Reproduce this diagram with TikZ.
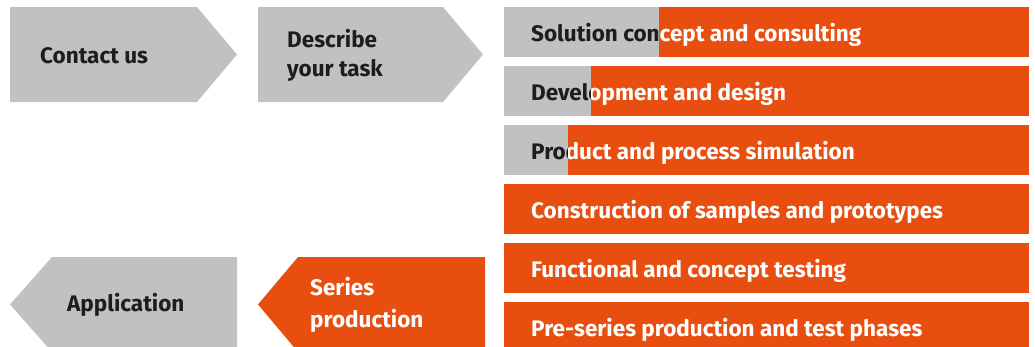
\documentclass[tikz,border=0pt]{standalone}
\usepackage{fontspec}
\setmainfont{Fira Sans}
\usepackage{xcolor}
\usepackage{tikz}

\definecolor{grisclair}{HTML}{C1C1C1}
\definecolor{orangefonce}{HTML}{E84E0F}
\definecolor{noirtexte}{HTML}{1D1D1B}

\begin{document}
\begin{tikzpicture}[x=1pt,y=-1pt]
		\tikzstyle{texte}=[anchor=base west,inner sep=0pt,align=left,font=\bfseries\fontsize{22.5}{29.5}\selectfont]
		\tikzstyle{sombre}=[texte,text=noirtexte]
		\tikzstyle{clair}=[texte,text=white]
		\useasboundingbox (0,0) rectangle (1035,346);
		\clip (0,0) rectangle (1035,346);

		% fleches du haut et du bas
		\fill[color=grisclair] (10,7) -- (197,7) -- (237,54.5) -- (197,102) -- (10,102) -- cycle;
		\fill[color=grisclair] (258,7) -- (443,7) -- (483,54.5) -- (443,102) -- (258,102) -- cycle;
		\fill[color=grisclair] (52,257) -- (237,257) -- (237,352) -- (52,352) -- (10,304.5) -- cycle;
		\fill[color=orangefonce] (298,257) -- (485,257) -- (485,352) -- (298,352) -- (258,304.5) -- cycle;
		\node[sombre] (contact) at (40,63) {Contact us};
		\node[sombre] (tache) at (287,76.7) {Describe\\your task};
		\node[sombre] (application) at (67,311.5) {Application};
		\node[clair,font=\bfseries\fontsize{22.5}{32}\selectfont] (serie) at (310,327.7) {Series\\production};

		% barres des phases
		\foreach \i/\y/\coupe/\txt in {1/7/659/Solution concept and consulting,
				2/66/591/Development and design,
				3/125/568/Product and process simulation,
				4/184/504/Construction of samples and prototypes,
				5/243/504/Functional and concept testing,
				6/302/504/Pre-series production and test phases}
		{
			\fill[color=grisclair] (504,\y) rectangle (\coupe,\y+50);
			\fill[color=orangefonce] (\coupe,\y) rectangle (1029,\y+50);
			\begin{scope}
				\clip (504,\y) rectangle (\coupe,\y+50);
				\node[sombre] (gris-\i) at (531,\y+34) {\txt};
			\end{scope}
			\begin{scope}
				\clip (\coupe,\y) rectangle (1029,\y+50);
				\node[clair] (phase-\i) at (531,\y+34) {\txt};
			\end{scope}
		}
	\end{tikzpicture}
\end{document}
